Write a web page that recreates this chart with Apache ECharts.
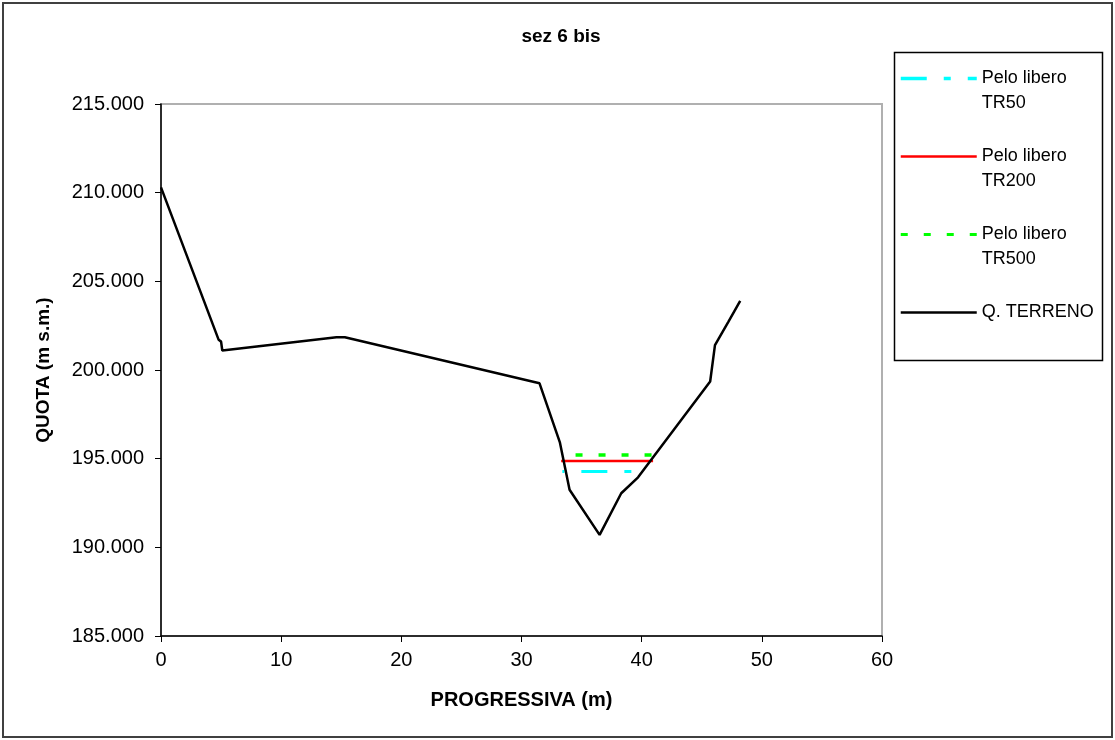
<!DOCTYPE html>
<html>
<head>
<meta charset="utf-8">
<script src="https://cdn.jsdelivr.net/npm/echarts@6/dist/echarts.min.js"></script>
<style>
html,body{margin:0;padding:0;background:#fff;}
#chart{width:1115px;height:740px;}
</style>
</head>
<body>
<div id="chart"></div>
<script>
// ---- data ----
const terrainX = [0, 4.8, 5.0, 5.1, 14.6, 15.3, 31.5, 33.2, 34.0, 36.5, 38.3, 39.7, 45.7, 46.1, 47.2, 48.2];
const terrainY = [210.3, 201.7, 201.6, 201.1, 201.85, 201.85, 199.25, 195.9, 193.25, 190.7, 193.05, 193.95, 199.35, 201.4, 202.7, 203.9];
const tr50X = [33.4, 40.0];
const tr50Y = [194.27, 194.27];
const tr200X = [33.3, 40.95];
const tr200Y = [194.87, 194.87];
const tr500X = [33.25, 41.1];
const tr500Y = [195.21, 195.21];
const seriesNames = ['Pelo libero TR50', 'Pelo libero TR200', 'Pelo libero TR500', 'Q. TERRENO'];
const chartTitle = 'sez 6 bis';
const xAxisTitle = 'PROGRESSIVA (m)';
const yAxisTitle = 'QUOTA (m s.m.)';

function pairs(xs, ys) { return xs.map((x, i) => [x, ys[i]]); }

const FONT = '"Liberation Sans", Arial, sans-serif';
const chart = echarts.init(document.getElementById('chart'), null, {renderer: 'canvas'});

// three text lines per legend entry so the sample line sits on the first visible line
const legendText = {
  'Pelo libero TR50': ' \nPelo libero\nTR50',
  'Pelo libero TR200': ' \nPelo libero\nTR200',
  'Pelo libero TR500': ' \nPelo libero\nTR500',
  'Q. TERRENO': ' \nQ. TERRENO\n '
};

const option = {
  backgroundColor: '#ffffff',
  animation: false,
  title: {
    text: chartTitle,
    left: 556,
    top: 22,
    textAlign: 'center',
    textStyle: {fontFamily: FONT, fontSize: 19, fontWeight: 'bold', color: '#000'}
  },
  graphic: [
    {type: 'rect', z: -1, shape: {x: 3, y: 3, width: 1109, height: 734},
     style: {fill: 'none', stroke: '#404040', lineWidth: 2}},
    {type: 'rect', z: -1, shape: {x: 894.5, y: 52.5, width: 208, height: 308},
     style: {fill: '#fff', stroke: '#000', lineWidth: 1.5}}
  ],
  legend: {
    orient: 'vertical',
    left: 899,
    top: 41,
    padding: 0,
    itemGap: 3,
    itemWidth: 76,
    itemHeight: 14,
    selectedMode: false,
    formatter: n => legendText[n],
    itemStyle: {opacity: 0, color: 'rgba(0,0,0,0)', borderWidth: 0},
    textStyle: {fontFamily: FONT, fontSize: 18, color: '#000', lineHeight: 25},
    data: [
      {name: seriesNames[0], lineStyle: {dashOffset: 0, width: 3.5}},
      {name: seriesNames[1], lineStyle: {width: 2.5}},
      {name: seriesNames[2], lineStyle: {dashOffset: 0, width: 3}},
      {name: seriesNames[3], lineStyle: {width: 2.5}}
    ]
  },
  grid: {
    left: 161, top: 104, right: 233, bottom: 104,
    show: true, borderColor: '#b0b0b0', borderWidth: 2, backgroundColor: '#fff'
  },
  xAxis: {
    type: 'value',
    min: 0, max: 60, interval: 10,
    name: xAxisTitle,
    nameLocation: 'middle',
    nameGap: 54,
    nameTextStyle: {fontFamily: FONT, fontSize: 20, fontWeight: 'bold', color: '#000'},
    axisLine: {lineStyle: {color: '#000', width: 1.5}},
    axisTick: {show: true, length: 6, lineStyle: {color: '#000'}},
    splitLine: {show: false},
    axisLabel: {fontFamily: FONT, fontSize: 20, color: '#000', margin: 14}
  },
  yAxis: {
    type: 'value',
    min: 185, max: 215, interval: 5,
    name: yAxisTitle,
    nameLocation: 'middle',
    nameGap: 108,
    nameTextStyle: {fontFamily: FONT, fontSize: 19, fontWeight: 'bold', color: '#000'},
    axisLine: {show: true, lineStyle: {color: '#000', width: 1.5}},
    axisTick: {show: true, length: 6, lineStyle: {color: '#000'}},
    splitLine: {show: false},
    axisLabel: {fontFamily: FONT, fontSize: 20, color: '#000', margin: 17,
      formatter: v => v.toFixed(3)}
  },
  series: [
    {name: seriesNames[0], type: 'line', data: pairs(tr50X, tr50Y), symbol: 'none',
     lineStyle: {color: '#00ffff', width: 3, type: [26, 17, 7, 17], dashOffset: 48}, itemStyle: {color: '#00ffff'}},
    {name: seriesNames[1], type: 'line', data: pairs(tr200X, tr200Y), symbol: 'none',
     lineStyle: {color: '#ff0000', width: 2.5, type: 'solid'}, itemStyle: {color: '#ff0000'}},
    {name: seriesNames[2], type: 'line', data: pairs(tr500X, tr500Y), symbol: 'none',
     lineStyle: {color: '#00ff00', width: 3.5, type: [7, 16], dashOffset: 8}, itemStyle: {color: '#00ff00'}},
    {name: seriesNames[3], type: 'line', data: pairs(terrainX, terrainY), symbol: 'none',
     lineStyle: {color: '#000000', width: 2.5, type: 'solid'}, itemStyle: {color: '#000000'}}
  ]
};
chart.setOption(option);
</script>
</body>
</html>
